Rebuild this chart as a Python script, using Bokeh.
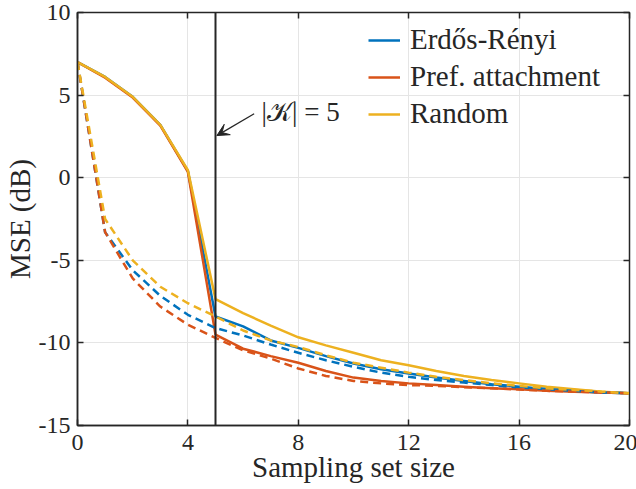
from bokeh.plotting import figure
from bokeh.models import (Legend, LegendItem, Span, Arrow, VeeHead, Label,
                          LinearAxis, FixedTicker, Range1d)
from bokeh.embed import file_html
from bokeh.resources import INLINE

sizes = list(range(0, 21))

# solid: exact sampling
er_solid = [7.0, 6.1, 4.9, 3.2, 0.4, -8.4, -9.0, -9.85, -10.3, -10.8, -11.25,
            -11.6, -11.85, -12.1, -12.3, -12.5, -12.65, -12.8, -12.9, -13.0, -13.05]
pa_solid = [7.0, 6.05, 4.85, 3.15, 0.35, -9.5, -10.35, -10.8, -11.2, -11.7, -12.1,
            -12.3, -12.45, -12.55, -12.65, -12.75, -12.8, -12.9, -12.95, -13.0, -13.05]
rd_solid = [7.0, 6.1, 4.9, 3.2, 0.45, -7.35, -8.2, -8.95, -9.66, -10.15, -10.6,
            -11.05, -11.35, -11.7, -12.0, -12.25, -12.45, -12.65, -12.8, -12.95, -13.05]

# dashed
er_dash = [7.0, -3.3, -5.6, -7.15, -8.3, -9.1, -9.55, -10.1, -10.6, -11.05, -11.45,
           -11.8, -12.05, -12.25, -12.4, -12.55, -12.7, -12.8, -12.9, -13.0, -13.05]
pa_dash = [7.0, -3.3, -6.1, -7.8, -8.9, -9.7, -10.45, -10.95, -11.55, -12.0, -12.3,
           -12.45, -12.55, -12.6, -12.68, -12.75, -12.82, -12.9, -12.95, -13.0, -13.05]
rd_dash = [7.0, -2.5, -5.0, -6.6, -7.6, -8.4, -9.25, -9.85, -10.25, -10.75, -11.2,
           -11.5, -11.8, -12.05, -12.25, -12.45, -12.6, -12.75, -12.85, -12.95, -13.05]

names = ["Erdős-Rényi", "Pref. attachment", "Random"]
colors = ["#0072BD", "#D95319", "#EDB120"]
x_ticks = [0, 4, 8, 12, 16, 20]
y_ticks = [-15, -10, -5, 0, 5, 10]
y_tick_labels = ["-15", "-10", "-5", "0", "5", "10"]

FONT = "Liberation Serif"
FRAME = "#262626"

p = figure(frame_width=552, frame_height=413, output_backend="svg",
           toolbar_location=None,
           x_range=Range1d(0, 20), y_range=Range1d(-15, 10),
           min_border_left=76, min_border_right=8, min_border_top=12,
           min_border_bottom=64)
p.background_fill_color = "white"
p.outline_line_color = FRAME
p.outline_line_width = 1.5

for ax in (p.xaxis[0], p.yaxis[0]):
    ax.axis_line_color = FRAME
    ax.axis_line_width = 1.5
    ax.major_tick_line_color = FRAME
    ax.major_tick_line_width = 1.5
    ax.major_tick_in = 6
    ax.major_tick_out = 0
    ax.minor_tick_line_color = None
    ax.major_label_text_font = FONT
    ax.major_label_text_font_size = "24px"
    ax.major_label_text_color = "#262626"
    ax.axis_label_text_font = FONT
    ax.axis_label_text_font_size = "29px"
    ax.axis_label_text_font_style = "normal"
    ax.axis_label_text_color = "#262626"
    ax.major_label_standoff = 7

p.xaxis[0].ticker = FixedTicker(ticks=x_ticks)
p.yaxis[0].ticker = FixedTicker(ticks=y_ticks)
p.yaxis[0].major_label_overrides = {t: s for t, s in zip(y_ticks, y_tick_labels)}
p.xaxis[0].axis_label = "Sampling set size"
p.yaxis[0].axis_label = "MSE (dB)"
p.xaxis[0].axis_label_standoff = -2
p.yaxis[0].axis_label_standoff = 0
p.xaxis[0].major_label_standoff = 9

p.xgrid.ticker = FixedTicker(ticks=x_ticks)
p.ygrid.ticker = FixedTicker(ticks=y_ticks)
p.grid.grid_line_color = "#e5e5e5"
p.grid.grid_line_width = 1

# ticks on top/right (box), with empty labels
rax = LinearAxis(ticker=FixedTicker(ticks=y_ticks),
                 major_label_overrides={t: "" for t in y_ticks},
                 major_label_standoff=0, major_tick_in=6, major_tick_out=0,
                 minor_tick_line_color=None, axis_line_color=FRAME,
                 major_tick_line_color=FRAME, major_tick_line_width=1.5)
tax = LinearAxis(ticker=FixedTicker(ticks=x_ticks),
                 major_label_overrides={t: "" for t in x_ticks},
                 major_label_standoff=0, major_tick_in=6, major_tick_out=0,
                 minor_tick_line_color=None, axis_line_color=FRAME,
                 major_tick_line_color=FRAME, major_tick_line_width=1.5)
p.add_layout(rax, "right")
p.add_layout(tax, "above")

solids = [er_solid, pa_solid, rd_solid]
dashes = [er_dash, pa_dash, rd_dash]
items = []
for ys, c, n in zip(solids, colors, names):
    r = p.line(sizes, ys, line_color=c, line_width=2.5)
    items.append(LegendItem(label=n, renderers=[r]))
for ys, c in zip(dashes, colors):
    p.line(sizes, ys, line_color=c, line_width=2.5, line_dash="8 5")

p.add_layout(Span(location=5, dimension="height", line_color=FRAME, line_width=2))

p.add_layout(Arrow(end=VeeHead(size=12, fill_color=FRAME, line_color=FRAME),
                   x_start=6.4, y_start=3.87, x_end=5.05, y_end=2.55,
                   line_color=FRAME, line_width=1.3))
p.add_layout(Label(x=6.67, y=3.95, text="|𝒦| = 5", text_font=FONT,
                   text_font_size="27px", text_baseline="middle", text_color="#262626"))

legend = Legend(items=items, location=(291, 295), border_line_color=None,
                background_fill_alpha=0, label_text_font=FONT,
                label_text_font_size="29px", label_text_color="#262626",
                glyph_width=32, glyph_height=20, spacing=4, padding=4,
                label_standoff=10, margin=0)
p.add_layout(legend)

open("out.html", "w").write(file_html(p, INLINE))
